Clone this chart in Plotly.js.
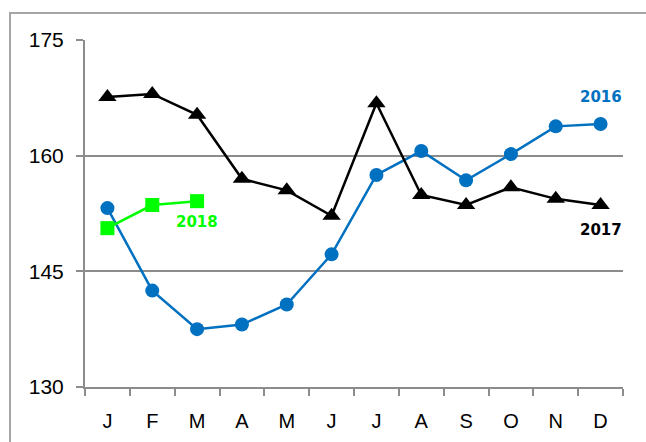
<!DOCTYPE html>
<html>
<head>
<meta charset="utf-8">
<script src="https://cdn.plot.ly/plotly-3.0.1.min.js"></script>
<style>
  html, body { margin: 0; padding: 0; background: #fff; }
  #chart { width: 646px; height: 442px; position: relative; }
  #frame { position: absolute; left: 9px; top: 12px; width: 700px; height: 500px;
           border-left: 2px solid #a6a6a6; border-top: 2px solid #a6a6a6; pointer-events: none; }
</style>
</head>
<body>
<div id="chart"></div>
<div id="frame"></div>
<script>
const categories = ['Jan','Feb','Mar','Apr','May','Jun','Jul','Aug','Sep','Oct','Nov','Dec'];
const tickLabels = ['J','F','M','A','M','J','J','A','S','O','N','D'];
const values2016 = [153.2, 142.5, 137.5, 138.1, 140.7, 147.2, 157.5, 160.6, 156.8, 160.2, 163.8, 164.1];
const values2017 = [167.6, 168.0, 165.3, 157.0, 155.5, 152.2, 166.8, 154.9, 153.6, 155.9, 154.4, 153.6];
const values2018 = [150.6, 153.6, 154.1];
const yTicks = [130, 145, 160, 175];

const traces = [
  { x: categories, y: values2016, name: '2016', type: 'scatter', mode: 'lines+markers',
    line: { color: '#0070C0', width: 2.5 }, marker: { symbol: 'circle', size: 14, color: '#0070C0' } },
  { x: categories, y: values2017, name: '2017', type: 'scatter', mode: 'lines+markers',
    line: { color: '#000000', width: 2.5 }, marker: { symbol: 'triangle-up', size: 16, color: '#000000' } },
  { x: categories.slice(0, values2018.length), y: values2018, name: '2018', type: 'scatter', mode: 'lines+markers',
    line: { color: '#00FF00', width: 2.5 }, marker: { symbol: 'square', size: 14, color: '#00FF00' } }
];

const labelFont = { family: 'DejaVu Sans', size: 15, weight: 'bold' };
const layout = {
  width: 646, height: 442,
  margin: { l: 85, r: 23, t: 40, b: 55, pad: 0 },
  paper_bgcolor: '#ffffff', plot_bgcolor: '#ffffff',
  showlegend: false,
  xaxis: {
    type: 'category', categoryorder: 'array', categoryarray: categories,
    tickmode: 'array', tickvals: categories, ticktext: tickLabels,
    tickson: 'boundaries', ticks: 'outside', ticklen: 7, tickwidth: 2, tickcolor: '#8c8c8c',
    showline: true, linecolor: '#8c8c8c', linewidth: 2, showgrid: false, zeroline: false,
    tickfont: { family: 'Liberation Sans', size: 20, color: '#000' },
    ticklabelstandoff: 15,
    range: [-0.5, 11.5], fixedrange: true
  },
  yaxis: {
    range: [130, 175], tickmode: 'array', tickvals: yTicks, ticktext: yTicks.map(String),
    ticks: 'outside', ticklen: 7, tickwidth: 2, tickcolor: '#8c8c8c',
    showline: true, linecolor: '#8c8c8c', linewidth: 2,
    showgrid: true, gridcolor: '#8c8c8c', gridwidth: 2, zeroline: false,
    tickfont: { family: 'Liberation Sans', size: 21, color: '#000' },
    ticklabelstandoff: 8, fixedrange: true
  },
  annotations: [
    { x: categories[11], y: values2016[11], xref: 'x', yref: 'y', text: '2016', showarrow: false,
      yshift: 27, font: Object.assign({ color: '#0070C0' }, labelFont) },
    { x: categories[11], y: values2017[11], xref: 'x', yref: 'y', text: '2017', showarrow: false,
      yshift: -25, font: Object.assign({ color: '#000000' }, labelFont) },
    { x: categories[2], y: values2018[2], xref: 'x', yref: 'y', text: '2018', showarrow: false,
      yshift: -21, font: Object.assign({ color: '#00FF00' }, labelFont) }
  ]
};

Plotly.newPlot('chart', traces, layout, { staticPlot: true, displayModeBar: false });
</script>
</body>
</html>
